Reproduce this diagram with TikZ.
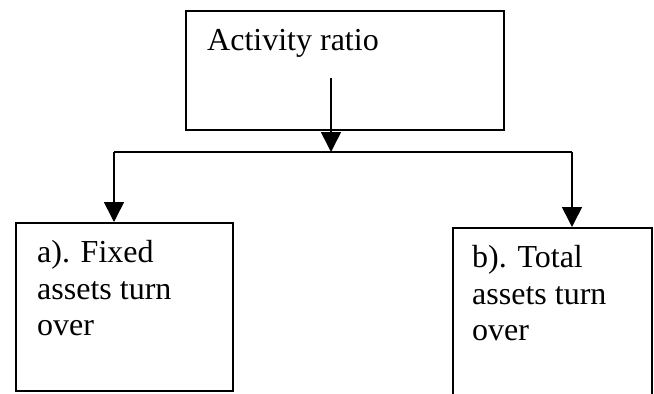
\documentclass[tikz,border=0pt]{standalone}
\usepackage{fontspec}
\setmainfont{Liberation Serif}
\usetikzlibrary{arrows.meta}
\begin{document}
\begin{tikzpicture}[x=1pt,y=-1pt,
  box/.style={draw, line width=1.6pt, minimum width=#1, inner sep=0pt, anchor=north west},
  lbl/.style={anchor=base west, inner sep=0pt, font=\fontsize{32}{37}\selectfont},
  conn/.style={line width=1.6pt},
  arr/.style={conn, -{Triangle[width=20pt,length=20pt]}}]
\useasboundingbox (0,0) rectangle (654,394);
% boxes
\node[box=318pt, minimum height=119pt] (top) at (185,10) {};
\node[box=217pt, minimum height=168pt] (left) at (15,222) {};
\node[box=199pt, minimum height=172pt] (right) at (452,227) {};
% texts
\node[lbl] (ttop) at (207,50) {Activity ratio};
\node[lbl] (tl1) at (37,262) {a). Fixed};
\node[lbl] (tl2) at (37,299) {assets turn};
\node[lbl] (tl3) at (37,335) {over};
\node[lbl] (tr1) at (472,267) {b). Total};
\node[lbl] (tr2) at (472,304) {assets turn};
\node[lbl] (tr3) at (472,340) {over};
% connectors
\coordinate (src) at (331,78);
\coordinate (mid) at (331,152);
\coordinate (lc) at (114,152);
\coordinate (rc) at (572,152);
\draw[arr] (src) -- (mid);
\draw[conn] (lc) -- (rc);
\draw[arr] (lc) -- (lc |- left.north);
\draw[arr] (rc) -- (rc |- right.north);
\end{tikzpicture}
\end{document}
